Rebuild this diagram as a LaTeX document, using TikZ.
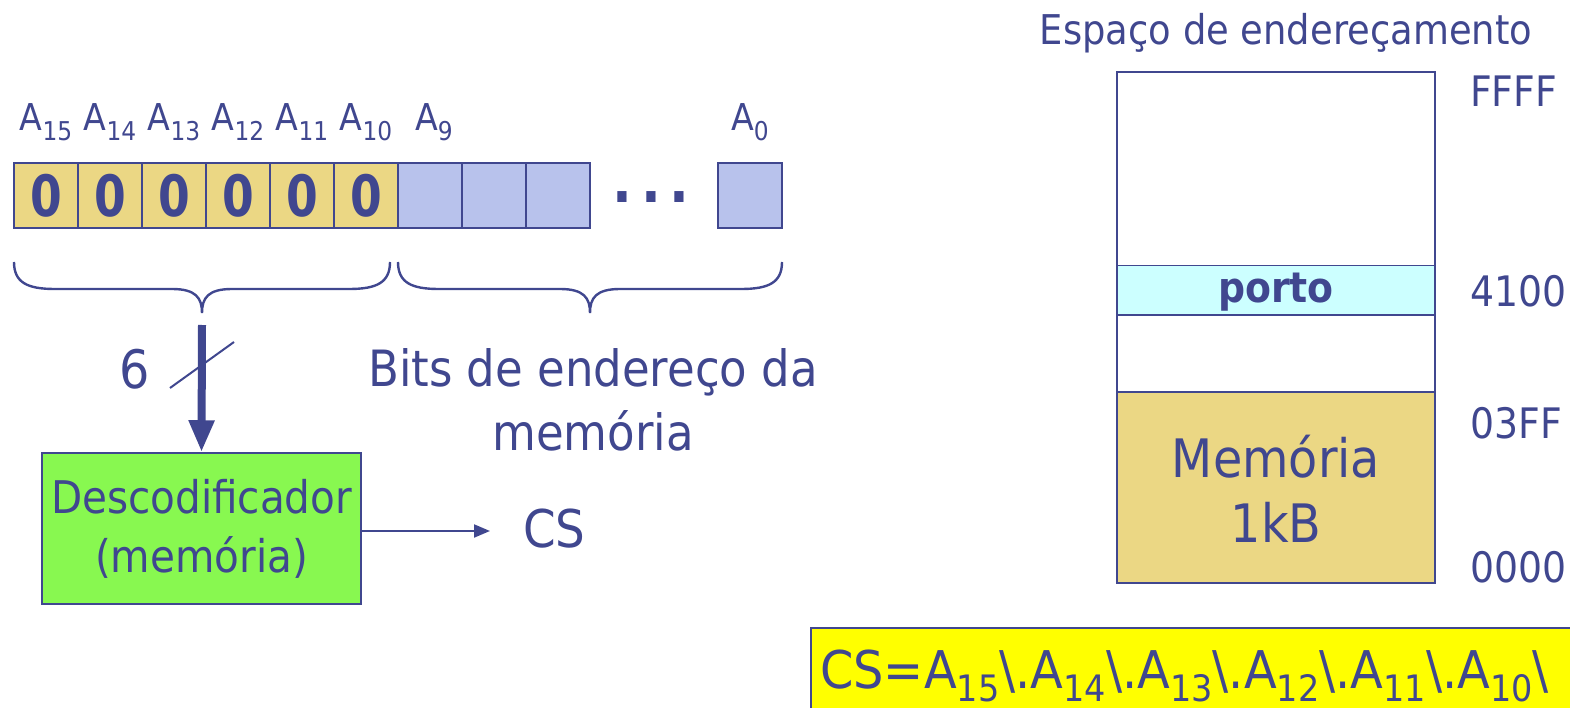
\documentclass[tikz,border=0pt]{standalone}
\usepackage{fontspec}
\usepackage{graphicx}
\setmainfont{DejaVu Sans}[FakeStretch=0.9]
\newfontfamily\zerofont{DejaVu Sans}[FakeStretch=0.8]
\newfontfamily\formfont{DejaVu Sans}[FakeStretch=0.92]
\usetikzlibrary{arrows.meta}
\definecolor{tb}{RGB}{64,71,143}
\definecolor{celly}{RGB}{235,215,132}
\definecolor{cellb}{RGB}{184,194,236}
\definecolor{portoc}{RGB}{204,255,255}
\definecolor{decg}{RGB}{136,248,80}
\definecolor{formy}{RGB}{255,255,0}
\newcommand\lsub[1]{\raisebox{-0.25em}{\scalebox{0.7}{#1}}}
\begin{document}
\begin{tikzpicture}[x=1pt,y=-1pt,
  every node/.style={text=tb, inner sep=0pt},
  cellbox/.style={draw=tb, line width=1.5pt, minimum width=64pt, minimum height=65pt},
  ycell/.style={cellbox, fill=celly, font=\zerofont\fontsize{57}{60}\selectfont\bfseries},
  bcell/.style={cellbox, fill=cellb},
  alab/.style={anchor=base, font=\fontsize{37}{40}\selectfont},
  addr/.style={anchor=base west, font=\fontsize{42}{46}\selectfont},
  col/.style={draw=tb, line width=1.5pt, minimum width=318pt},
  brace/.style={draw=tb, line width=2.4pt}]
\useasboundingbox (0,0) rectangle (1570,708);
\clip (0,0) rectangle (1570,708);

% address bits
\foreach \i/\n in {0/15,1/14,2/13,3/12,4/11,5/10}{
  \node[ycell] (c\n) at (46+64*\i,195.5) {0};
  \node[alab] (l\n) at (46+64*\i,131) {A\lsub{\n}};
}
\node[bcell] (c9) at (430,195.5) {};
\node[bcell] (c8) at (494,195.5) {};
\node[bcell] (c7) at (558,195.5) {};
\node[bcell] (c0) at (750,195.5) {};
\node[alab] (l9) at (434,131) {A\lsub{9}};
\node[alab] (l0) at (750,131) {A\lsub{0}};
\node[anchor=base, font=\fontsize{58}{60}\selectfont\bfseries] (dots) at (651,203) {.\hspace{9pt}.\hspace{9pt}.};

% braces
\draw[brace] (14,262) .. controls (14,283) and (28,289) .. (55,289) -- (172,289)
  .. controls (196,289) and (202,298) .. (202,313)
  .. controls (202,298) and (208,289) .. (232,289) -- (349,289)
  .. controls (376,289) and (390,283) .. (390,262);
\draw[brace] (398,262) .. controls (398,283) and (412,289) .. (439,289) -- (560,289)
  .. controls (584,289) and (590,298) .. (590,313)
  .. controls (590,298) and (596,289) .. (620,289) -- (741,289)
  .. controls (768,289) and (782,283) .. (782,262);

% decoder
\node[draw=tb, line width=1.5pt, fill=decg, minimum width=319pt, minimum height=151pt,
  align=center, font=\fontsize{45}{59}\selectfont] (dec) at (201.5,528.5) {Descodificador\\(memória)};
\coordinate (btip) at (202,325);
\draw[tb, line width=8pt, -{Triangle[width=24pt,length=32pt]}] (btip) -- (dec.north);
\coordinate (s1) at (170,388);
\coordinate (s2) at (234,342);
\draw[tb, line width=2pt] (s1) -- (s2);
\node[anchor=base, font=\fontsize{53}{56}\selectfont] (six) at (135,388) {6};

\node[anchor=base, font=\fontsize{50}{56}\selectfont] (bits1) at (593,386) {Bits de endereço da};
\node[anchor=base, font=\fontsize{50}{56}\selectfont] (bits2) at (593,450) {memória};

\node[anchor=base west, font=\fontsize{52}{56}\selectfont] (cs) at (523,547) {CS};
\coordinate (decout) at (dec.east |- 0,531);
\draw[tb, line width=2pt, -{Triangle[width=13pt,length=16pt]}] (decout) -- (cs.west |- decout) [shorten >=33pt];

% address space
\node[anchor=base, font=\fontsize{41}{44}\selectfont] (esp) at (1286,45) {Espaço de endereçamento};
\node[col, fill=white, minimum height=194pt] (top) at (1276,169) {};
\node[col, fill=portoc, minimum height=50pt] (porto) at (1276,290.5) {};
\node[anchor=base, font=\fontsize{42}{46}\selectfont\bfseries] (portot) at (1276,303) {porto};
\node[col, fill=white, minimum height=77pt] (gap) at (1276,353.5) {};
\node[col, fill=celly, minimum height=191pt] (mem) at (1276,487.5) {};
\node[anchor=base, font=\fontsize{53}{56}\selectfont] (mem1) at (1276,477) {Memória};
\node[anchor=base, font=\fontsize{53}{56}\selectfont] (mem2) at (1276,542) {1kB};

\node[addr] (aF) at (1470,107) {FFFF};
\node[addr] (a41) at (1470,307) {4100};
\node[addr] (a03) at (1470,438) {03FF};
\node[addr] (a00) at (1470,582) {0000};

% formula
\node[draw=tb, line width=1.5pt, fill=formy, anchor=north west, minimum width=780pt, minimum height=100pt] (fbox) at (810,627) {};
\node[anchor=base west, font=\formfont\fontsize{52}{56}\selectfont] (form) at (820,688)
  {CS=A\lsub{15}\textbackslash.A\lsub{14}\textbackslash.A\lsub{13}\textbackslash.A\lsub{12}\textbackslash.A\lsub{11}\textbackslash.A\lsub{10}\textbackslash};
\end{tikzpicture}
\end{document}
